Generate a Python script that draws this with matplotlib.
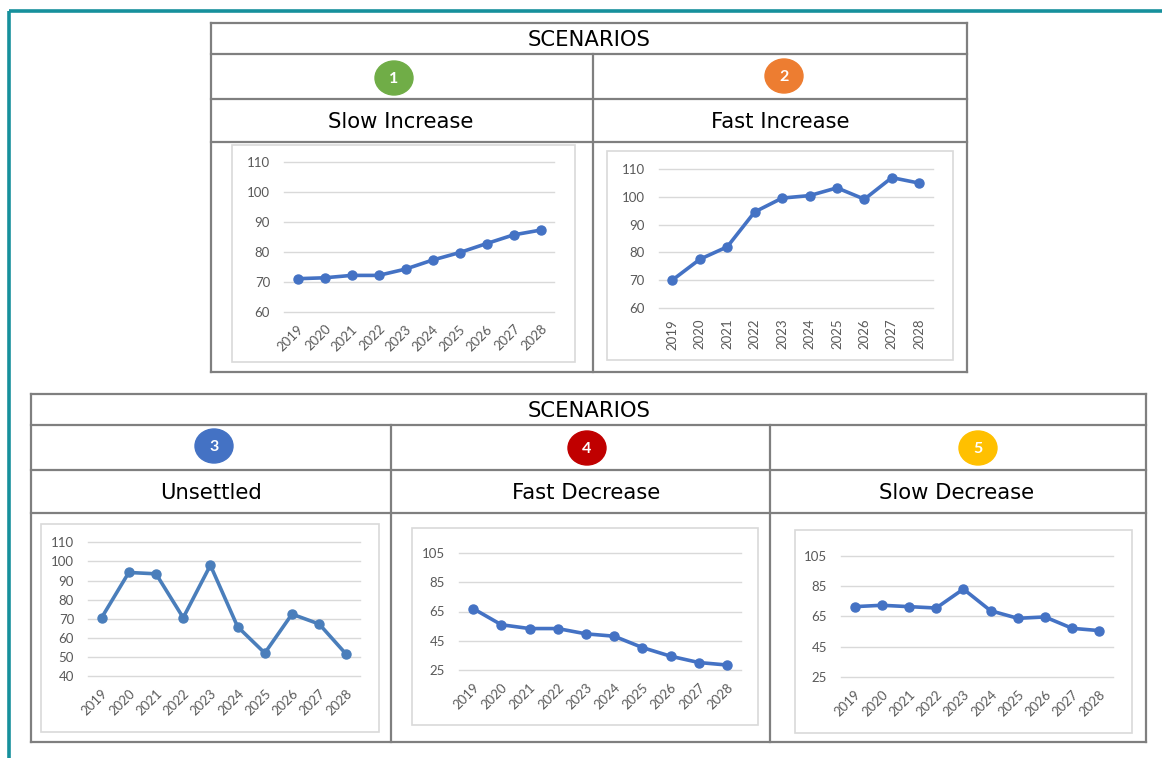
import matplotlib
matplotlib.use("Agg")
import matplotlib.pyplot as plt
from matplotlib.patches import Rectangle, Ellipse

W, H = 1162, 758

years = ['2019', '2020', '2021', '2022', '2023', '2024', '2025', '2026', '2027', '2028']
slow_increase = [71, 71.3, 72.1, 72.1, 74.2, 77.2, 79.7, 82.7, 85.6, 87.2]
fast_increase = [70, 77.5, 82, 94.6, 99.6, 100.5, 103.3, 99.2, 107, 105]
unsettled = [70.5, 94.2, 93.5, 70.5, 98, 65.8, 52, 72.4, 67.2, 51.3]
fast_decrease = [67, 56, 53.4, 53.4, 49.8, 48.2, 40.5, 34.6, 30.3, 28.6]
slow_decrease = [71.4, 72.3, 71.4, 70.5, 83, 68.7, 63.7, 64.6, 57.1, 55.6]

titles = ['Slow Increase', 'Fast Increase', 'Unsettled', 'Fast Decrease', 'Slow Decrease']
badges = ['1', '2', '3', '4', '5']
badge_colors = ['#70AD47', '#ED7D31', '#4472C4', '#C00000', '#FFC000']

plt.rcParams['font.family'] = ['Lato', 'DejaVu Sans']

fig = plt.figure(figsize=(W / 100, H / 100), dpi=100)

# background layer in pixel coordinates
bg = fig.add_axes([0, 0, 1, 1])
bg.set_xlim(0, W)
bg.set_ylim(H, 0)
bg.axis('off')

teal = '#16909C'
bg.plot([8.5, W], [11, 11], color=teal, lw=2.6, solid_capstyle='butt')
bg.plot([8.5, 8.5], [11, H], color=teal, lw=2.6, solid_capstyle='butt')

grey = '#7F7F7F'


def hline(x0, x1, y):
    bg.plot([x0, x1], [y, y], color=grey, lw=1.6, solid_capstyle='projecting')


def vline(x, y0, y1):
    bg.plot([x, x], [y0, y1], color=grey, lw=1.6, solid_capstyle='projecting')


# top table
tl, tr = 211, 967
for y in [23, 53.5, 98.5, 141.5, 371.5]:
    hline(tl, tr, y)
vline(tl, 23, 371.5)
vline(tr, 23, 371.5)
vline(592.5, 53.5, 371.5)

# bottom table
bl, br = 31, 1146
for y in [393.5, 424.5, 469.5, 513, 742]:
    hline(bl, br, y)
vline(bl, 393.5, 742)
vline(br, 393.5, 742)
vline(390.5, 424.5, 742)
vline(770, 424.5, 742)

head_font = ['DejaVu Sans']
head_fs = 15.2
bg.text(589, 40, 'SCENARIOS', ha='center', va='center', fontsize=head_fs, family=head_font)
bg.text(589, 411, 'SCENARIOS', ha='center', va='center', fontsize=head_fs, family=head_font)

title_pos = [(401, 122), (780, 122), (211, 493), (586, 493), (957, 493)]
badge_pos = [(394, 78), (784, 76), (214, 446), (587, 448), (978, 448)]
for (tx, ty), t in zip(title_pos, titles):
    bg.text(tx, ty, t, ha='center', va='center', fontsize=head_fs, family=head_font)
for (cx, cy), b, c in zip(badge_pos, badges, badge_colors):
    bg.add_patch(Ellipse((cx, cy), 38, 34, color=c, zorder=3))
    bg.text(cx, cy + 1, b, ha='center', va='center', fontsize=11.5, color='white',
            fontweight='bold', zorder=4)

# chart frames
frames = [(231.5, 144.5, 575, 361.5), (607, 150.5, 953, 359.5),
          (40.5, 523.5, 379, 731.5), (411.5, 527.5, 758, 725),
          (795, 530, 1131.5, 732.5)]
for l, t, r, b in frames:
    bg.add_patch(Rectangle((l, t), r - l, b - t, fill=False, ec='#D9D9D9', lw=1.2))

# plot areas (left, top, right, bottom) in pixels
areas = [(284, 161.7, 554, 311.7), (658.7, 169.3, 933, 307.7),
         (88, 542.3, 360, 676), (459, 552.7, 741, 670.3),
         (841, 555.7, 1113, 677)]
series = [slow_increase, fast_increase, unsettled, fast_decrease, slow_decrease]
line_colors = ['#4472C4', '#4472C4', '#4A7EBB', '#4472C4', '#4472C4']
yticks = [list(range(60, 111, 10)), list(range(60, 111, 10)),
          list(range(40, 111, 10)), list(range(25, 106, 20)), list(range(25, 106, 20))]
rotations = [45, 90, 45, 45, 45]

for (l, t, r, b), vals, col, yt, rot in zip(areas, series, line_colors, yticks, rotations):
    ax = fig.add_axes([l / W, 1 - b / H, (r - l) / W, (b - t) / H])
    ax.set_facecolor('none')
    x = list(range(len(years)))
    ax.plot(x, vals, color=col, lw=2.6, marker='o', ms=6.5, zorder=3, clip_on=False)
    ax.set_xlim(-0.5, len(years) - 0.5)
    ax.set_ylim(yt[0], yt[-1])
    ax.set_yticks(yt)
    ax.set_yticklabels([str(v) for v in yt], fontsize=9.5, color='#595959')
    ax.set_xticks(x)
    if rot == 90:
        ax.set_xticklabels(years, fontsize=9.5, color='#595959', rotation=90,
                           ha='center', va='top')
    else:
        ax.set_xticklabels(years, fontsize=9.5, color='#595959', rotation=45,
                           ha='right', va='top', rotation_mode='anchor')
    ax.grid(axis='y', color='#D9D9D9', lw=1)
    for gl in ax.get_ygridlines():
        gl.set_clip_on(False)
    ax.set_axisbelow(True)
    ax.tick_params(axis='y', length=0, pad=10)
    ax.tick_params(axis='x', length=0, pad=8)
    for s in ax.spines.values():
        s.set_visible(False)

fig.savefig('out.png', dpi=100)
